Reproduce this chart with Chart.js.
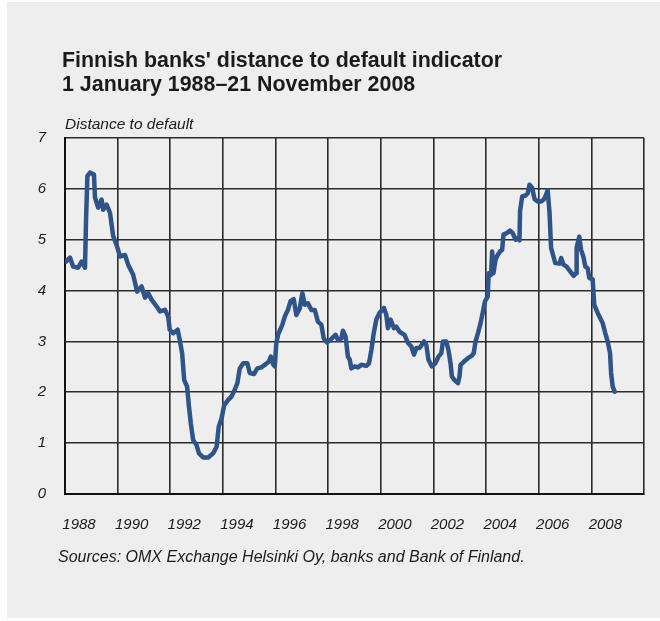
<!DOCTYPE html>
<html>
<head>
<meta charset="utf-8">
<script src="https://cdn.jsdelivr.net/npm/chart.js@4.4.0/dist/chart.umd.min.js"></script>
<style>
  html, body { margin: 0; padding: 0; background: #ffffff; }
  body { width: 660px; height: 621px; position: relative; overflow: hidden; font-family: "Liberation Sans", Arial, sans-serif; }
  #panel { position: absolute; left: 7px; top: 2px; width: 653px; height: 616px; background: #eeeeee; }
  #title { position: absolute; left: 62px; top: 48px; font-size: 21.4px; font-weight: bold; line-height: 24px; color: #1b1b1b; }
  #unit { position: absolute; left: 65px; top: 115px; font-size: 15.5px; font-style: italic; color: #1b1b1b; }
  #source { position: absolute; left: 58px; top: 548px; font-size: 16px; font-style: italic; color: #1b1b1b; }
  #wrap { position: absolute; left: 0; top: 0; width: 660px; height: 621px; }
</style>
</head>
<body>
<div id="panel"></div>
<div id="wrap"><canvas id="chart" width="660" height="621"></canvas></div>
<div id="title">Finnish banks' distance to default indicator<br>1 January 1988–21 November 2008</div>
<div id="unit">Distance to default</div>
<div id="source">Sources: OMX Exchange Helsinki Oy, banks and Bank of Finland.</div>
<script>
// dates as decimal years
const years = [
  1988.04, 1988.19, 1988.31, 1988.50, 1988.63, 1988.76, 1988.80, 1988.85, 1988.95, 1989.10,
  1989.14, 1989.26, 1989.39, 1989.45, 1989.58, 1989.71, 1989.83, 1989.96, 1990.09, 1990.28,
  1990.40, 1990.59, 1990.74, 1990.91, 1991.04, 1991.16, 1991.29, 1991.48, 1991.61, 1991.80,
  1991.92, 1991.98, 1992.11, 1992.28, 1992.36, 1992.45, 1992.53, 1992.64, 1992.71, 1992.78,
  1992.87, 1993.00, 1993.09, 1993.25, 1993.44, 1993.63, 1993.76, 1993.84, 1993.95, 1994.05,
  1994.20, 1994.33, 1994.45, 1994.55, 1994.64, 1994.77, 1994.93, 1995.02, 1995.18, 1995.31,
  1995.46, 1995.59, 1995.74, 1995.82, 1995.91, 1995.97, 1996.03, 1996.10, 1996.26, 1996.35,
  1996.47, 1996.57, 1996.69, 1996.79, 1996.92, 1997.02, 1997.11, 1997.23, 1997.36, 1997.49,
  1997.61, 1997.74, 1997.83, 1997.95, 1998.12, 1998.28, 1998.37, 1998.50, 1998.56, 1998.66,
  1998.75, 1998.82, 1998.88, 1999.01, 1999.13, 1999.26, 1999.45, 1999.55, 1999.64, 1999.73,
  1999.83, 1999.95, 2000.12, 2000.21, 2000.27, 2000.37, 2000.50, 2000.59, 2000.71, 2000.90,
  2001.03, 2001.16, 2001.26, 2001.35, 2001.47, 2001.64, 2001.73, 2001.81, 2001.94, 2002.07,
  2002.19, 2002.30, 2002.36, 2002.49, 2002.57, 2002.65, 2002.70, 2002.80, 2002.93, 2002.99,
  2003.03, 2003.15, 2003.31, 2003.46, 2003.53, 2003.60, 2003.69, 2003.79, 2003.87, 2003.96,
  2004.06, 2004.10, 2004.19, 2004.23, 2004.28, 2004.36, 2004.44, 2004.53, 2004.61, 2004.66,
  2004.79, 2004.91, 2005.01, 2005.12, 2005.20, 2005.27, 2005.29, 2005.37, 2005.50, 2005.58,
  2005.65, 2005.75, 2005.84, 2005.96, 2006.09, 2006.19, 2006.25, 2006.34, 2006.41, 2006.47,
  2006.56, 2006.63, 2006.79, 2006.85, 2006.94, 2007.06, 2007.19, 2007.33, 2007.42, 2007.44,
  2007.54, 2007.61, 2007.70, 2007.77, 2007.86, 2007.92, 2008.05, 2008.11, 2008.24, 2008.43,
  2008.53, 2008.62, 2008.71, 2008.75, 2008.81, 2008.89
];
const distance = [
  4.57, 4.65, 4.47, 4.45, 4.57, 4.45, 5.39, 6.25, 6.32, 6.28,
  5.83, 5.63, 5.79, 5.59, 5.69, 5.53, 5.07, 4.90, 4.67, 4.70,
  4.51, 4.31, 3.98, 4.08, 3.86, 3.95, 3.82, 3.69, 3.59, 3.62,
  3.49, 3.23, 3.16, 3.23, 3.03, 2.77, 2.24, 2.11, 1.72, 1.39,
  1.06, 0.96, 0.80, 0.72, 0.72, 0.80, 0.93, 1.32, 1.49, 1.75,
  1.85, 1.92, 2.05, 2.18, 2.47, 2.57, 2.57, 2.38, 2.36, 2.47,
  2.49, 2.54, 2.60, 2.70, 2.55, 2.51, 2.97, 3.14, 3.33, 3.49,
  3.62, 3.79, 3.83, 3.52, 3.65, 3.95, 3.72, 3.75, 3.62, 3.62,
  3.39, 3.33, 3.06, 2.98, 3.05, 3.13, 3.03, 3.06, 3.21, 3.10,
  2.70, 2.64, 2.47, 2.51, 2.49, 2.54, 2.52, 2.57, 2.83, 3.16,
  3.43, 3.56, 3.66, 3.52, 3.26, 3.43, 3.26, 3.29, 3.19, 3.13,
  2.97, 2.90, 2.74, 2.87, 2.87, 3.00, 2.93, 2.64, 2.51, 2.57,
  2.70, 2.77, 3.00, 3.00, 2.83, 2.57, 2.31, 2.24, 2.18, 2.31,
  2.54, 2.60, 2.67, 2.72, 2.77, 3.00, 3.16, 3.36, 3.56, 3.79,
  3.88, 4.34, 4.31, 4.77, 4.34, 4.61, 4.70, 4.77, 4.80, 5.10,
  5.13, 5.18, 5.13, 5.00, 5.03, 4.99, 5.56, 5.85, 5.87, 5.91,
  6.08, 6.02, 5.80, 5.75, 5.75, 5.79, 5.85, 5.97, 5.53, 4.84,
  4.67, 4.54, 4.53, 4.64, 4.51, 4.47, 4.38, 4.29, 4.34, 4.84,
  5.06, 4.80, 4.66, 4.47, 4.44, 4.25, 4.22, 3.72, 3.56, 3.36,
  3.16, 3.00, 2.77, 2.38, 2.11, 2.01
];
const xTicks = [1988, 1990, 1992, 1994, 1996, 1998, 2000, 2002, 2004, 2006, 2008];

const points = years.map((y, i) => ({ x: y, y: distance[i] }));
const gridColor = '#2b2b2b';
const tickFont = { family: '"Liberation Sans", Arial, sans-serif', size: 15, style: 'italic' };

new Chart(document.getElementById('chart'), {
  type: 'line',
  data: {
    datasets: [{
      data: points,
      borderColor: '#2f5489',
      borderWidth: 4.5,
      pointRadius: 0,
      tension: 0,
      borderJoinStyle: 'round',
      borderCapStyle: 'round'
    }]
  },
  options: {
    responsive: false,
    animation: false,
    layout: { padding: { left: 0, top: 138, right: 16, bottom: 0 } },
    plugins: { legend: { display: false }, tooltip: { enabled: false } },
    scales: {
      x: {
        type: 'linear',
        min: 1988,
        max: 2010,
        afterFit: (s) => { s.height = 127; s.paddingLeft = 0; s.paddingRight = 0; },
        afterBuildTicks: (s) => { s.ticks = xTicks.concat([2010]).map(v => ({ value: v })); },
        ticks: {
          callback: (v) => (xTicks.includes(v) ? String(v) : ''),
          labelOffset: 14,
          padding: 22,
          maxRotation: 0,
          autoSkip: false,
          color: '#1b1b1b',
          font: tickFont
        },
        grid: { color: gridColor, lineWidth: 1.6, drawTicks: false },
        border: { color: '#111', width: 2 }
      },
      y: {
        min: 0,
        max: 7,
        afterFit: (s) => { s.width = 65; s.paddingTop = 0; s.paddingBottom = 0; },
        ticks: { stepSize: 1, padding: 19, color: '#1b1b1b', font: tickFont },
        grid: { color: gridColor, lineWidth: 1.6, drawTicks: false },
        border: { color: '#111', width: 2 }
      }
    }
  }
});
</script>
</body>
</html>
